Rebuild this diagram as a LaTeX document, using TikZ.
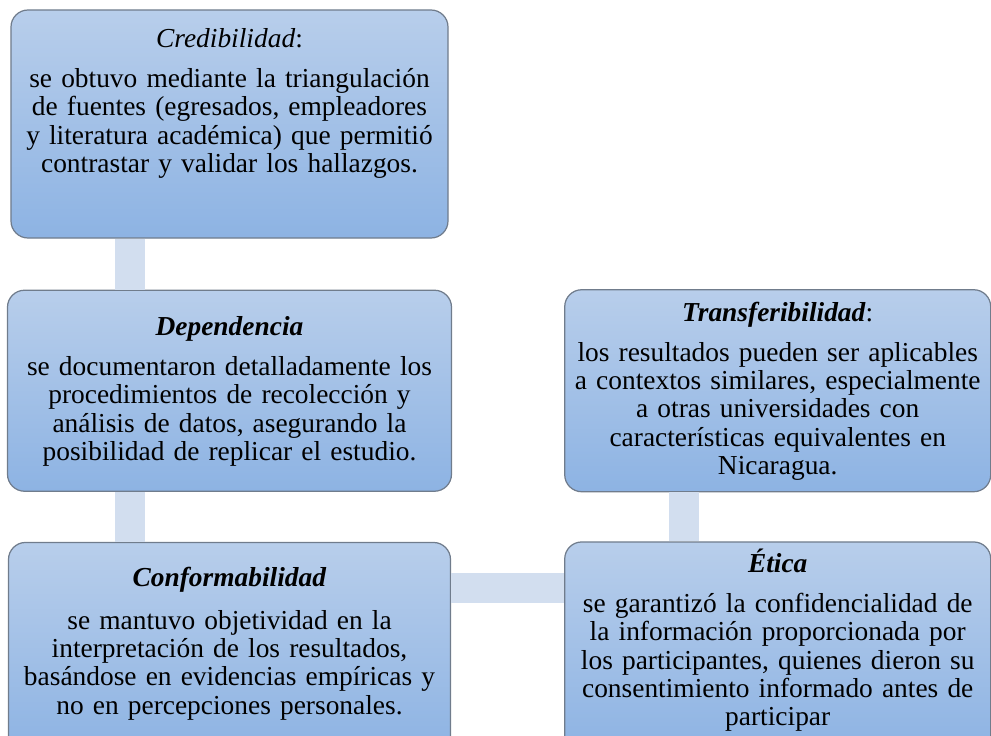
\documentclass[tikz,border=0pt]{standalone}
\usepackage{fontspec}
\setmainfont{Liberation Serif}
\usetikzlibrary{positioning}
\definecolor{cardtop}{RGB}{184,206,235}
\definecolor{cardbot}{RGB}{141,179,227}
\definecolor{cardline}{RGB}{112,124,140}
\definecolor{linkblue}{RGB}{210,222,239}
\tikzset{
	card/.style={rectangle,rounded corners=3.4mm,draw=cardline,line width=0.7pt,top color=cardtop,bottom color=cardbot},
	txt/.style={align=center,text width=8.6cm,inner sep=0pt,font=\fontsize{15.6}{16.1}\selectfont,anchor=base},
	link/.style={draw=linkblue,line width=6mm}
}
\begin{document}
\begin{tikzpicture}
		\path[use as bounding box,clip] (0,0) rectangle (19.82,-14.72);
		\node[card,minimum width=8.74cm,minimum height=4.56cm](cred) at (4.59,-2.48){};
		\node[card,minimum width=8.88cm,minimum height=4.02cm,below=1.02cm of cred](dep){};
		\node[card,minimum width=8.84cm,minimum height=4.2cm,below=1cm of dep](conf){};
		\node[card,minimum width=8.52cm,minimum height=4.04cm,right=2.24cm of dep](trans){};
		\node[card,minimum width=8.52cm,minimum height=4.22cm,below=0.98cm of trans](etica){};
		\coordinate (lx) at (2.6,0);
		\coordinate (rx) at (13.67,0);
		\coordinate (hy) at (0,-11.76);
		\path[link]
		(cred.south -| lx) edge (dep.north -| lx)
		(dep.south -| lx) edge (conf.north -| lx)
		(trans.south -| rx) edge (etica.north -| rx)
		(conf.east |- hy) edge (etica.west |- hy);
		\node[txt](credtxt) at ([yshift=-0.76cm]cred.north){\textit{Credibilidad}:\\[6.7pt]
			se obtuvo mediante la triangulación\\de fuentes (egresados, empleadores\\y literatura académica) que permitió\\contrastar y validar los hallazgos.};
		\node[txt](deptxt) at ([yshift=-0.92cm]dep.north){\textbf{\textit{Dependencia}}\\[6.7pt]
			se documentaron detalladamente los\\procedimientos de recolección y\\análisis de datos, asegurando la\\posibilidad de replicar el estudio.};
		\node[txt](conftxt) at ([yshift=-0.9cm]conf.north){\textbf{\textit{Conformabilidad}}\\[8pt]
			se mantuvo objetividad en la\\interpretación de los resultados,\\basándose en evidencias empíricas y\\no en percepciones personales.};
		\node[txt](transtxt) at ([yshift=-0.64cm]trans.north){\textbf{\textit{Transferibilidad}}:\\[6.7pt]
			los resultados pueden ser aplicables\\a contextos similares, especialmente\\a otras universidades con\\características equivalentes en\\Nicaragua.};
		\node[txt](eticatxt) at ([yshift=-0.62cm]etica.north){\textbf{\textit{Ética}}\\[6.7pt]
			se garantizó la confidencialidad de\\la información proporcionada por\\los participantes, quienes dieron su\\consentimiento informado antes de\\participar};
\end{tikzpicture}
\end{document}
